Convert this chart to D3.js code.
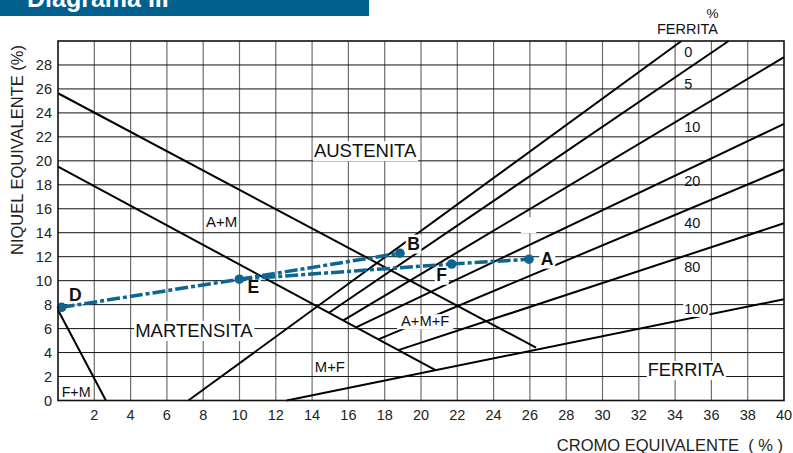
<!DOCTYPE html>
<html>
<head>
<meta charset="utf-8">
<script src="https://cdn.jsdelivr.net/npm/d3@7"></script>
<style>
  html, body { margin: 0; padding: 0; background: #fff; }
  svg { display: block; font-family: "Liberation Sans", Arial, sans-serif; }
</style>
</head>
<body>
<svg id="chart" width="793" height="453"></svg>
<script>
// ---------------- DATA ----------------
const xTicks = [2,4,6,8,10,12,14,16,18,20,22,24,26,28,30,32,34,36,38,40];
const yTicks = [0,2,4,6,8,10,12,14,16,18,20,22,24,26,28];

// phase boundary lines (Cr eq, Ni eq)
const boundaryAM   = [[0, 25.64], [26.34, 4.41]];
const boundaryMart = [[0, 19.52], [20.8, 2.53]];
const boundaryFM   = [[0, 7.55], [2.64, 0]];

// iso-ferrite lines
const ferriteNames  = ["0", "5", "10", "20", "40", "80", "100"];
const ferriteStart  = [[7.18, 0], [14.93, 7.32], [15.72, 6.68], [16.42, 6.1], [17.65, 5.1], [18.75, 4.2], [12.6, 0]];
const ferriteEnd    = [[34.35, 30], [36.95, 30], [40, 28.65], [40, 23.08], [40, 19.3], [40, 14.79], [40, 8.45]];

// welding points
const pointNames = ["D", "E", "B", "F", "A"];
const pointCr    = [0.2, 9.99, 18.84, 21.69, 25.95];
const pointNi    = [7.78, 10.12, 12.29, 11.39, 11.79];
const segments   = [["D", "E"], ["E", "B"], ["E", "F"], ["F", "A"]];

// ---------------- LAYOUT ----------------
const svg = d3.select("#chart");
const x = d3.scaleLinear().domain([0, 40]).range([58, 784]);
const y = d3.scaleLinear().domain([0, 30]).range([400.5, 41]);
const BLUE = "#0d6592";

// header bar
svg.append("rect").attr("x", 0).attr("y", 0).attr("width", 369).attr("height", 16).attr("fill", "#005f8d");
svg.append("text").attr("x", 27).attr("y", 7).attr("fill", "#fff")
  .attr("font-size", 25).attr("font-weight", "bold").text("Diagrama III");

// grid
const g = svg.append("g");
g.selectAll(".vg").data(xTicks.filter(d => d < 40)).join("line")
  .attr("x1", d => x(d)).attr("x2", d => x(d)).attr("y1", y(0)).attr("y2", y(30))
  .attr("stroke", "#6e6e6e").attr("stroke-width", 1.2);
g.selectAll(".hg").data(yTicks.filter(d => d > 0)).join("line")
  .attr("x1", x(0)).attr("x2", x(40)).attr("y1", d => y(d)).attr("y2", d => y(d))
  .attr("stroke", "#111").attr("stroke-width", 1);

// small masked spot
svg.append("rect").attr("x", x(25.5)).attr("y", y(15.3)).attr("width", x(26.35) - x(25.5))
  .attr("height", y(13.95) - y(15.3)).attr("fill", "#fff");

// axis tick labels
svg.append("g").selectAll("text").data(xTicks).join("text")
  .attr("x", d => x(d)).attr("y", 419.5).attr("text-anchor", "middle")
  .attr("font-size", 14.5).attr("fill", "#222").text(d => d);
svg.append("g").selectAll("text").data(yTicks).join("text")
  .attr("x", 52).attr("y", d => y(d) + 5).attr("text-anchor", "end")
  .attr("font-size", 14.5).attr("fill", "#222").text(d => d);

// axis titles
svg.append("text").attr("x", 783).attr("y", 450.5).attr("text-anchor", "end")
  .attr("font-size", 16.5).attr("fill", "#222").attr("xml:space", "preserve")
  .text("CROMO EQUIVALENTE  ( % )");
svg.append("text").attr("transform", "translate(23,150) rotate(-90)").attr("text-anchor", "middle")
  .attr("font-size", 16.5).attr("fill", "#222").text("NIQUEL EQUIVALENTE (%)");

// black lines
const line = d3.line().x(d => x(d[0])).y(d => y(d[1]));
const blines = [boundaryAM, boundaryMart, boundaryFM]
  .concat(ferriteStart.map((s, i) => [s, ferriteEnd[i]]));
svg.append("g").selectAll("path").data(blines).join("path")
  .attr("d", line).attr("fill", "none").attr("stroke", "#000").attr("stroke-width", 2);

// labels with white background
function label(parent, txt, px, py, opts) {
  const o = Object.assign({ size: 15, anchor: "start", bg: true, weight: "normal", pad: 2 }, opts || {});
  const grp = parent.append("g");
  const t = grp.append("text").attr("x", px).attr("y", py).attr("text-anchor", o.anchor)
    .attr("font-size", o.size).attr("font-weight", o.weight).attr("fill", "#111").text(txt);
  if (o.bg) {
    const b = t.node().getBBox();
    grp.insert("rect", "text").attr("x", b.x - o.pad).attr("y", b.y + 1)
      .attr("width", b.width + 2 * o.pad).attr("height", b.height - 1).attr("fill", "#fff");
  }
  return grp;
}
const lab = svg.append("g");
label(lab, "AUSTENITA", x(14.1), y(20.3), { size: 18.5, pad: 1 });
label(lab, "MARTENSITA", x(4.25), y(5.3), { size: 18.5, pad: 1 });
label(lab, "FERRITA", x(34.6), y(2.05), { size: 18.2, anchor: "middle", pad: 1 });
label(lab, "A+M", x(8.15), y(14.45), { size: 15, bg: false });
label(lab, "A+M+F", x(18.9), y(6.2), { size: 14.7, pad: 4 });
label(lab, "M+F", x(14.15), y(2.4), { size: 14.8, bg: false });
label(lab, "F+M", x(0.2), y(0.33), { size: 14.3, bg: false });

// ferrite % labels
const ferriteLabelY = [28.7, 25.98, 22.44, 17.9, 14.37, 10.75, 7.22];
ferriteNames.forEach((n, i) => {
  label(lab, n, x(34.5), y(ferriteLabelY[i]), { size: 14.5, bg: n === "100", pad: 1 });
});
label(lab, "%", 712.5, 18, { size: 13.5, anchor: "middle", bg: false });
label(lab, "FERRITA", 687.5, 33.5, { size: 14.5, anchor: "middle", bg: false });

// welding series
const pt = {};
pointNames.forEach((n, i) => pt[n] = [pointCr[i], pointNi[i]]);
svg.append("g").selectAll("path").data(segments).join("path")
  .attr("d", s => line([pt[s[0]], pt[s[1]]]))
  .attr("fill", "none").attr("stroke", BLUE).attr("stroke-width", 3.5)
  .attr("stroke-dasharray", "13,3,4,3");
svg.append("g").selectAll("circle").data(pointNames).join("circle")
  .attr("cx", n => x(pt[n][0])).attr("cy", n => y(pt[n][1])).attr("r", 4.8).attr("fill", BLUE);

// point labels
const plOff = { D: [0.4, 0.55], E: [0.45, -1.15], B: [0.4, 0.3], F: [-0.85, -1.4], A: [0.65, -0.45] };
pointNames.forEach(n => {
  label(lab, n, x(pt[n][0] + plOff[n][0]), y(pt[n][1] + plOff[n][1]), { size: 17.5, weight: "bold", pad: 1.5 });
});

// frame
svg.append("rect").attr("x", x(0)).attr("y", y(30)).attr("width", x(40) - x(0)).attr("height", y(0) - y(30))
  .attr("fill", "none").attr("stroke", "#111").attr("stroke-width", 1.6);
</script>
</body>
</html>
